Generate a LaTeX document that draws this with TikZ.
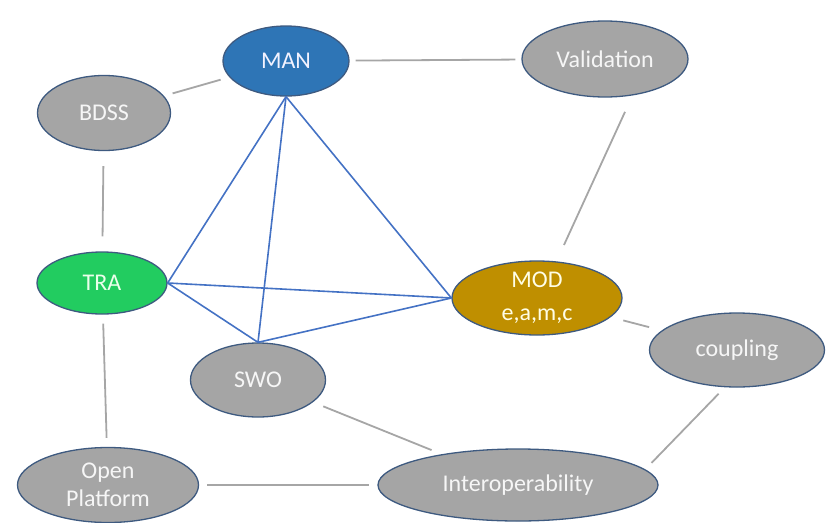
\documentclass[tikz,border=0pt]{standalone}
\usepackage{fontspec}
\setmainfont{Carlito}
\usepackage{xcolor}
\usetikzlibrary{shapes.geometric}

\definecolor{shapegray}{HTML}{A5A5A5}
\definecolor{shapeline}{HTML}{3E5A80}
\definecolor{manblue}{HTML}{2E75B6}
\definecolor{tragreen}{HTML}{22CC60}
\definecolor{modgold}{HTML}{BF8F00}
\definecolor{linkgray}{HTML}{A6A6A6}
\definecolor{coreblue}{HTML}{4472C4}

\begin{document}
\begin{tikzpicture}[
    x=1pt, y=-1pt,
    font=\fontsize{24}{28}\selectfont,
    topic/.style={ellipse, draw=shapeline, line width=1.3pt, fill=shapegray, text=white!93!gray, inner sep=0pt, align=center},
    link/.style={draw=linkgray, line width=1.8pt, shorten <=#1, shorten >=#1},
    link/.default=10pt,
    core/.style={draw=coreblue, line width=1.6pt}
  ]
    \useasboundingbox (0,0) rectangle (832,522);

    % Topics
    \node[topic, fill=manblue, text=white!95!blue, minimum width=126, minimum height=70] (man) at (286,61) {MAN};
    \node[topic, minimum width=166, minimum height=76] (val) at (605,59) {Validation};
    \node[topic, minimum width=133, minimum height=75] (bdss) at (104,113) {BDSS};
    \node[topic, fill=tragreen, text=white!92!green, minimum width=130, minimum height=62] (tra) at (102,283) {TRA};
    \node[topic, fill=modgold, text=white!90!yellow, minimum width=170, minimum height=74, font=\fontsize{24}{33}\selectfont] (mod) at (537,298) {MOD\\e,a,m,c};
    \node[topic, minimum width=175, minimum height=74] (coup) at (737,350) {coupling};
    \node[topic, minimum width=135, minimum height=74] (swo) at (258,380) {SWO};
    \node[topic, minimum width=280, minimum height=72] (inter) at (518,485) {Interoperability};
    \node[topic, minimum width=181, minimum height=75] (open) at (108,485) {Open\\Platform};

    % Grey links (they stop short of the shapes)
    \draw[link=9pt] (bdss) -- (man);
    \draw[link=6pt] (man) -- (val);
    \draw[link=18pt] (val.-53) -- (mod.62);
    \draw[link=15pt] (bdss) -- (tra);
    \draw[link=9pt] (tra) -- (open);
    \draw[link=8pt] (open) -- (inter);
    \draw[link=11pt] (swo) -- (inter);
    \draw[link=9pt] (inter.7) -- (coup.-108);
    \draw[link=13pt] (mod) -- (coup);

    % Blue core links
    \draw[core] (man.south) -- (tra.east);
    \draw[core] (man.south) -- (swo.north);
    \draw[core] (man.south) -- (mod.west);
    \draw[core] (tra.east) -- (mod.west);
    \draw[core] (tra.east) -- (swo.north);
    \draw[core] (swo.north) -- (mod.west);
  \end{tikzpicture}
\end{document}
